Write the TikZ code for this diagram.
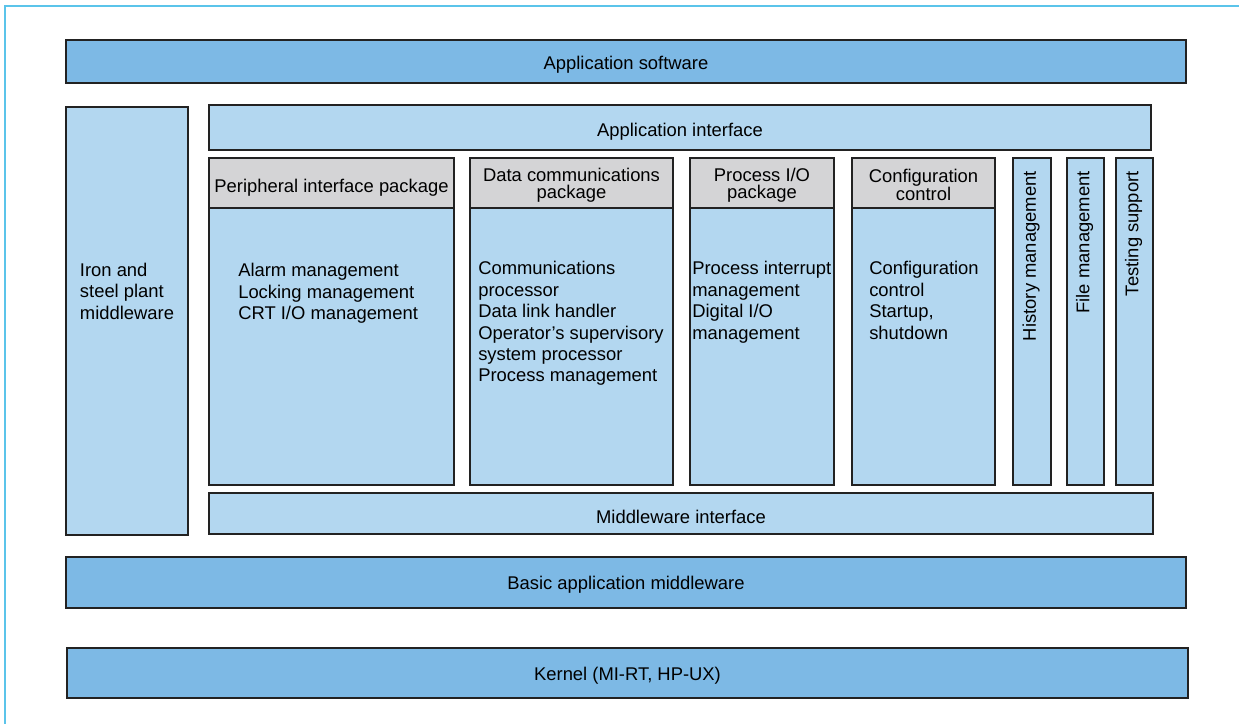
\documentclass[tikz,border=0pt]{standalone}
\usepackage{fontspec}
\setmainfont{Liberation Sans}
\definecolor{dkblue}{HTML}{7DB9E5}
\definecolor{ltblue}{HTML}{B3D7F0}
\definecolor{hdgray}{HTML}{D4D4D6}
\definecolor{frame}{HTML}{5BC4EA}
\definecolor{edge}{HTML}{222222}
\begin{document}
\begin{tikzpicture}[x=0.75pt,y=-0.75pt,
  dk/.style={draw=edge,line width=1pt,fill=dkblue},
  lt/.style={draw=edge,line width=1pt,fill=ltblue},
  hd/.style={draw=edge,line width=1pt,fill=hdgray},
  txt/.style={inner sep=0pt,font=\fontsize{13.8}{16.1}\selectfont},
  lst/.style={txt,align=left,anchor=north west},
  ctr/.style={txt,align=center},
  hdtxt/.style={inner sep=0pt,align=center,font=\fontsize{13.8}{12.8}\selectfont},
  vert/.style={txt,rotate=90,anchor=east}]
\useasboundingbox (0,0) rectangle (1239,724);
\fill[white] (0,0) rectangle (1239,724);
% frame
\draw[frame,line width=1.5pt] (5,724) -- (5,6.5) -- (1239,6.5);
% bands
\draw[dk] (66,40) rectangle (1186,83);
\node[ctr] (appsw) at (626,64.5) {Application software};
\draw[lt] (66,107) rectangle (188,535);
\node[lst,anchor=center] (iron) at (127,291) {Iron and\\steel plant\\middleware};
\draw[lt] (209,105) rectangle (1151,150);
\node[ctr] (appif) at (680,131.5) {Application interface};
% peripheral
\draw[lt] (209,208) rectangle (454,485);
\draw[hd] (209,158) rectangle (454,208);
\node[hdtxt] (perh) at (331.5,187.5) {Peripheral interface package};
\node[lst] (perb) at (238,263) {Alarm management\\Locking management\\CRT I/O management};
% data comm
\draw[lt] (470,208) rectangle (673,485);
\draw[hd] (470,158) rectangle (673,208);
\node[hdtxt] (dch) at (571.5,185) {Data communications\\package};
\node[lst] (dcb) at (478,261) {Communications\\processor\\Data link handler\\Operator's supervisory\\system processor\\Process management};
% process io
\draw[lt] (690,208) rectangle (834,485);
\draw[hd] (690,158) rectangle (834,208);
\node[hdtxt] (pih) at (762,185) {Process I/O\\package};
\node[lst] (pib) at (692,261) {Process interrupt\\management\\Digital I/O\\management};
% config
\draw[lt] (852,208) rectangle (995,485);
\draw[hd] (852,158) rectangle (995,208);
\node[hdtxt] (cch) at (923.5,185) {Configuration\\control};
\node[lst] (ccb) at (869,261) {Configuration\\control\\Startup,\\shutdown};
% vertical columns
\draw[lt] (1013,158) rectangle (1051,485);
\node[vert] (hist) at (1031,171) {History management};
\draw[lt] (1067,158) rectangle (1104,485);
\node[vert] (file) at (1084.5,171) {File management};
\draw[lt] (1116,158) rectangle (1153,485);
\node[vert] (test) at (1133.5,171) {Testing support};
% middleware interface
\draw[lt] (209,493) rectangle (1153,534);
\node[ctr] (mwif) at (681,516.5) {Middleware interface};
\draw[dk] (66,557) rectangle (1186,608);
\node[ctr] (basic) at (626,584.5) {Basic application middleware};
\draw[dk] (67,648) rectangle (1188,698);
\node[ctr] (kern) at (627.5,675.5) {Kernel (MI-RT, HP-UX)};
\end{tikzpicture}
\end{document}
